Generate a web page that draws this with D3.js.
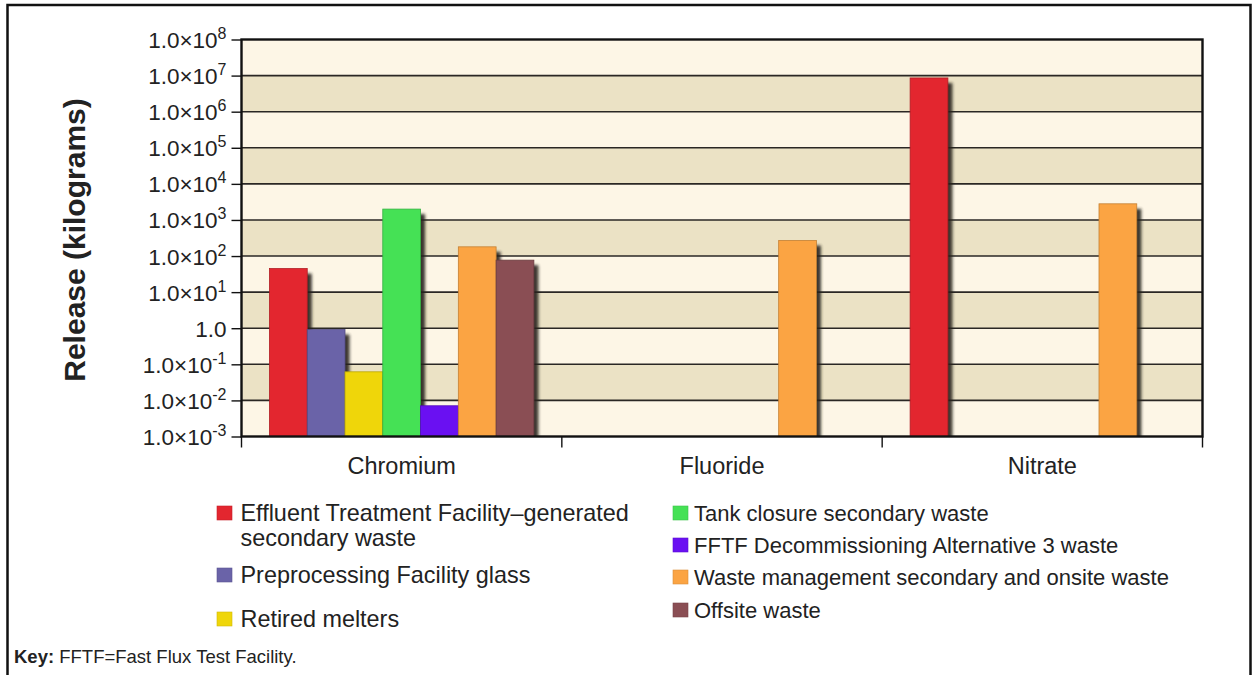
<!DOCTYPE html>
<html><head><meta charset="utf-8">
<script src="https://cdn.jsdelivr.net/npm/d3@7"></script>
<style>
html,body{margin:0;padding:0;background:#fff;}
svg{display:block;font-family:"Liberation Sans",Arial,Helvetica,sans-serif;}
</style></head>
<body>
<svg id="chart" width="1255" height="675"></svg>
<script>
// ---- data ----
const categories = ["Chromium", "Fluoride", "Nitrate"];
const seriesNames = [
  "Effluent Treatment Facility\u2013generated secondary waste",
  "Preprocessing Facility glass",
  "Retired melters",
  "Tank closure secondary waste",
  "FFTF Decommissioning Alternative 3 waste",
  "Waste management secondary and onsite waste",
  "Offsite waste"
];
const seriesColors = ["#e3262f", "#6a63a8", "#efd60a", "#45e155", "#6a10f2", "#fba443", "#8a4e54"];
const etfValues      = [45,     null, 8.6e6];
const preprocValues  = [0.92,   null, null];
const meltersValues  = [0.062,  null, null];
const tankValues     = [2000,   null, null];
const fftfValues     = [0.0071, null, null];
const wasteMgmtValues= [180,    270,  2800];
const offsiteValues  = [77,     null, null];
const seriesValues = [etfValues, preprocValues, meltersValues, tankValues, fftfValues, wasteMgmtValues, offsiteValues];
const tickExponents = [8, 7, 6, 5, 4, 3, 2, 1, 0, -1, -2, -3];
const yTitle = "Release (kilograms)";
const keyBold = "Key:";
const keyText = " FFTF=Fast Flux Test Facility.";

// ---- layout ----
const svg = d3.select("#chart");
const L = 241.5, R = 1202.5, T = 39.5, B = 436.5;
const textColor = "#222";

// outer frame
svg.append("rect").attr("x", 7.5).attr("y", 5).attr("width", 1243).attr("height", 700)
  .attr("fill", "none").attr("stroke", "#111").attr("stroke-width", 2.5);

const y = d3.scaleLog().domain([1e-3, 1e8]).range([B, T]);
const x0 = d3.scaleBand().domain(categories).range([L, R]);
const x1 = d3.scaleBand().domain(d3.range(seriesNames.length)).range([0, x0.bandwidth()])
  .paddingInner(0).paddingOuter(0.74);

const defs = svg.append("defs");
defs.append("clipPath").attr("id", "plotClip").append("rect")
  .attr("x", L).attr("y", T).attr("width", R - L).attr("height", B - T);
const f = defs.append("filter").attr("id", "shadowBlur").attr("x", "-50%").attr("y", "-50%").attr("width", "200%").attr("height", "200%");
f.append("feGaussianBlur").attr("stdDeviation", 1.5);

// background bands
const plot = svg.append("g").attr("clip-path", "url(#plotClip)");
const decades = d3.range(-3, 8); // lower exponent of each band
plot.selectAll("rect.band").data(decades).join("rect").attr("class", "band")
  .attr("x", L).attr("width", R - L)
  .attr("y", e => y(Math.pow(10, e + 1)))
  .attr("height", e => y(Math.pow(10, e)) - y(Math.pow(10, e + 1)))
  .attr("fill", e => ((7 - e) % 2 === 1) ? "#ebe2c5" : "#fdf6e6");

// grid lines
plot.selectAll("line.grid").data(tickExponents.slice(1, -1)).join("line").attr("class", "grid")
  .attr("x1", L).attr("x2", R)
  .attr("y1", e => y(Math.pow(10, e))).attr("y2", e => y(Math.pow(10, e)))
  .attr("stroke", "#2a2724").attr("stroke-width", 1.6);

// bars with shadows (drawn in series order)
const barData = [];
categories.forEach((c, ci) => {
  seriesValues.forEach((vals, si) => {
    if (vals[ci] != null) barData.push({ c, si, v: vals[ci] });
  });
});
barData.sort((a, b) => categories.indexOf(a.c) - categories.indexOf(b.c) || a.si - b.si);
const barG = plot.append("g");
barData.forEach(d => {
  const bx = x0(d.c) + x1(d.si), bw = x1.bandwidth(), by = y(d.v), bh = B - y(d.v);
  barG.append("rect").attr("x", bx + 4.5).attr("y", by + 5).attr("width", bw).attr("height", bh)
    .attr("fill", "#26221f").attr("opacity", 0.9).attr("filter", "url(#shadowBlur)");
  barG.append("rect").attr("x", bx).attr("y", by).attr("width", bw).attr("height", bh)
    .attr("fill", seriesColors[d.si])
    .attr("stroke", d3.color(seriesColors[d.si]).darker(0.7)).attr("stroke-width", 0.8);
});

// plot border
svg.append("rect").attr("x", L).attr("y", T).attr("width", R - L).attr("height", B - T)
  .attr("fill", "none").attr("stroke", "#111").attr("stroke-width", 2.4);

// y axis
const yAxis = d3.axisLeft(y).tickValues(tickExponents.map(e => Math.pow(10, e)))
  .tickSize(10).tickPadding(5).tickFormat("");
const yg = svg.append("g").attr("transform", `translate(${L},0)`).call(yAxis);
yg.attr("font-family", null).attr("font-size", null);
yg.select(".domain").remove();
yg.selectAll(".tick line").attr("stroke", "#111").attr("stroke-width", 1.4);
yg.selectAll(".tick").each(function (d, i) {
  const e = tickExponents[i];
  const t = d3.select(this).append("text")
    .attr("x", -15).attr("y", 8).attr("fill", textColor)
    .attr("text-anchor", "end").style("font-size", "22.5px");
  if (e === 0) {
    t.text("1.0");
  } else {
    t.append("tspan").text("1.0\u00d710");
    t.append("tspan").attr("dy", -9).style("font-size", "16px").text(String(e));
  }
});

// x axis
const xAxis = d3.axisBottom(x0).tickSize(0).tickPadding(21);
const xg = svg.append("g").attr("transform", `translate(0,${B})`).call(xAxis);
xg.attr("font-family", null).attr("font-size", null);
xg.select(".domain").remove();
xg.selectAll(".tick text").attr("fill", textColor).style("font-size", "23.5px");
// category boundary ticks
const bounds = d3.range(categories.length + 1).map(i => L + i * x0.step());
svg.selectAll("line.xtick").data(bounds).join("line").attr("class", "xtick")
  .attr("x1", d => d).attr("x2", d => d).attr("y1", B).attr("y2", B + 11)
  .attr("stroke", "#111").attr("stroke-width", 1.4);

// y title
svg.append("text").attr("transform", "translate(85,240) rotate(-90)")
  .attr("text-anchor", "middle").attr("fill", textColor)
  .style("font-size", "30px").style("font-weight", "bold").text(yTitle);

// legend
const legendItems = [
  { si: 0, x: 217, y: 521, fs: 23.4, lines: ["Effluent Treatment Facility\u2013generated", "secondary waste"] },
  { si: 1, x: 217, y: 583, fs: 23.4, lines: ["Preprocessing Facility glass"] },
  { si: 2, x: 217, y: 627, fs: 23.4, lines: ["Retired melters"] },
  { si: 3, x: 673, y: 521, fs: 22, lines: [seriesNames[3]] },
  { si: 4, x: 673, y: 553, fs: 22, lines: [seriesNames[4]] },
  { si: 5, x: 673, y: 585, fs: 22, lines: [seriesNames[5]] },
  { si: 6, x: 673, y: 618, fs: 22, lines: [seriesNames[6]] }
];
const lg = svg.append("g");
legendItems.forEach(it => {
  lg.append("rect").attr("x", it.x).attr("y", it.y - 15).attr("width", 15).attr("height", 14)
    .attr("fill", seriesColors[it.si]).attr("stroke", d3.color(seriesColors[it.si]).darker(0.4)).attr("stroke-width", 0.6);
  const tx = it.x + (it.si < 3 ? 23.5 : 21);
  const t = lg.append("text").attr("x", tx).attr("y", it.y).attr("fill", textColor).style("font-size", it.fs + "px");
  it.lines.forEach((ln, k) => {
    t.append("tspan").attr("x", tx).attr("dy", k === 0 ? 0 : 25).text(ln);
  });
});

// key
const kt = svg.append("text").attr("x", 14).attr("y", 663).attr("fill", textColor).style("font-size", "18.5px");
kt.append("tspan").style("font-weight", "bold").text(keyBold);
kt.append("tspan").text(keyText);
</script>
</body></html>
